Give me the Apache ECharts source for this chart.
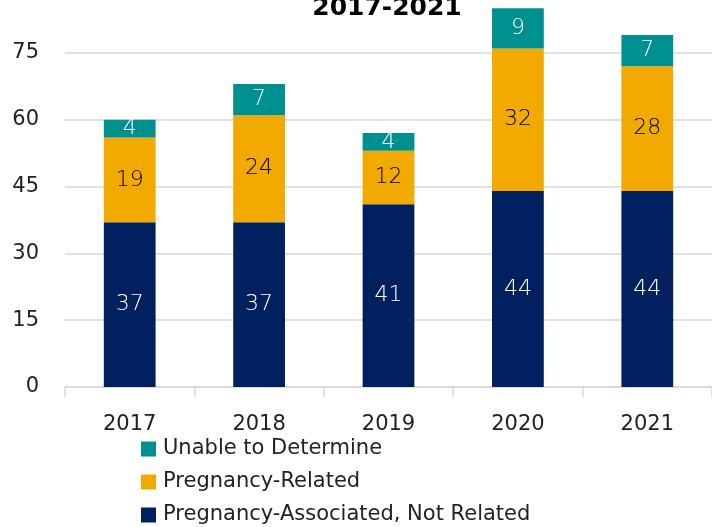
<!DOCTYPE html>
<html>
<head>
<meta charset="utf-8">
<script src="https://cdn.jsdelivr.net/npm/echarts@6/dist/echarts.min.js"></script>
<style>
  html, body { margin: 0; padding: 0; background: #fff; overflow: hidden; }
  /* the drawing surface starts above the page so the top of the plot is clipped */
  #chart { width: 712px; height: 567px; margin-top: -40px; }
</style>
</head>
<body>
<div id="chart"></div>
<script>
// Deaths by year, split by relation to pregnancy
const years = ['2017', '2018', '2019', '2020', '2021'];
const notRelated = [37, 37, 41, 44, 44];
const related = [19, 24, 12, 32, 28];
const undetermined = [4, 7, 4, 9, 7];
const yTicks = { min: 0, max: 90, interval: 15 };

const FONT = '"DejaVu Sans", sans-serif';
const chart = echarts.init(document.getElementById('chart'), null, { renderer: 'canvas' });

function barSeries(name, data, color, labelColor) {
  return {
    name: name,
    type: 'bar',
    stack: 'total',
    data: data,
    barWidth: '40%',
    itemStyle: { color: color },
    label: {
      show: true,
      position: 'inside',
      color: labelColor,
      fontFamily: FONT,
      fontSize: 22,
      fontWeight: 200
    }
  };
}

chart.setOption({
  animation: false,
  textStyle: { fontFamily: FONT },
  graphic: [{
    type: 'text',
    x: 387,
    y: 61,
    style: {
      text: '2017-2021',
      textAlign: 'center',
      textVerticalAlign: 'bottom',
      fontFamily: FONT,
      fontWeight: 'bold',
      fontSize: 25,
      fill: '#000'
    }
  }],
  grid: { left: 65, right: -8, top: 26, bottom: 140, containLabel: false },
  legend: {
    orient: 'vertical',
    left: 141,
    top: 478.5,
    height: 100,
    padding: 0,
    itemWidth: 15,
    itemHeight: 15,
    itemGap: 12,
    icon: 'rect',
    data: ['Unable to Determine', 'Pregnancy-Related', 'Pregnancy-Associated, Not Related'],
    textStyle: { fontFamily: FONT, fontSize: 21, color: '#222', padding: [0, 0, 0, 2] }
  },
  xAxis: {
    type: 'category',
    data: years,
    axisLine: { lineStyle: { color: '#d9d9d9', width: 1.5 } },
    axisTick: { show: true, length: 10, lineStyle: { color: '#d9d9d9', width: 1.5 } },
    axisLabel: { color: '#222', fontSize: 21, fontFamily: FONT, margin: 27 }
  },
  yAxis: {
    type: 'value',
    min: yTicks.min,
    max: yTicks.max,
    interval: yTicks.interval,
    axisLine: { show: false },
    axisTick: { show: false },
    splitLine: { lineStyle: { color: '#d9d9d9', width: 1.5 } },
    axisLabel: { color: '#222', fontSize: 21, fontFamily: FONT, margin: 26 }
  },
  series: [
    barSeries('Pregnancy-Associated, Not Related', notRelated, '#002060', '#fff'),
    barSeries('Pregnancy-Related', related, '#f2a900', '#000'),
    barSeries('Unable to Determine', undetermined, '#00908f', '#fff')
  ]
});
</script>
</body>
</html>
